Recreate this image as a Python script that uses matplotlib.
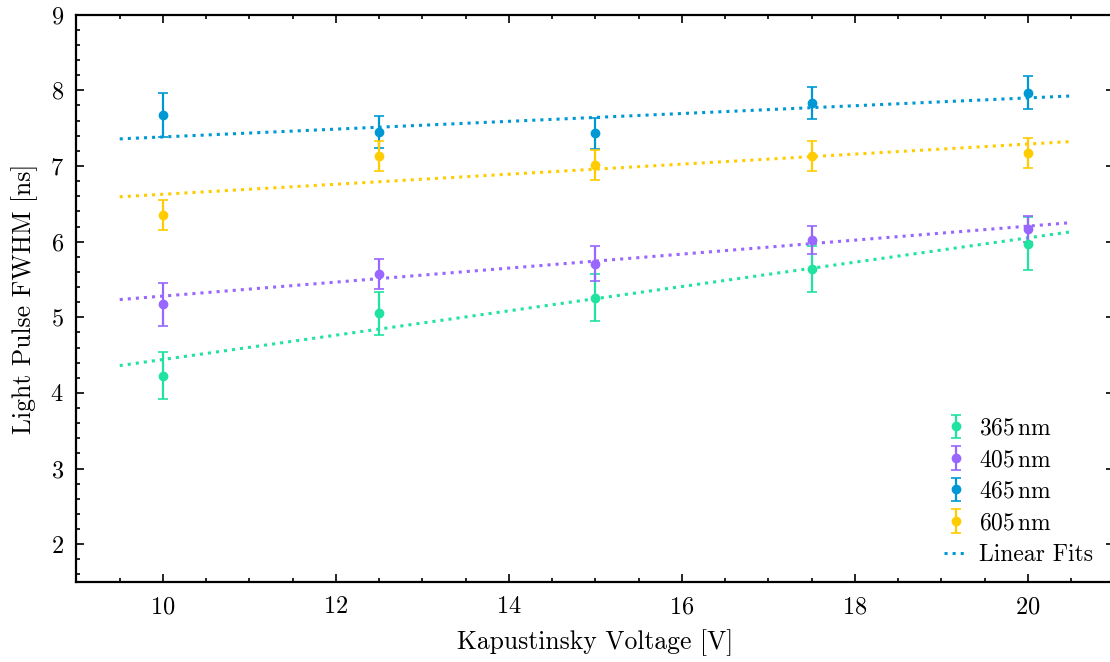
import numpy as np
import matplotlib.pyplot as plt
from matplotlib.ticker import MultipleLocator

plt.rcParams['font.family'] = 'cmr10'
plt.rcParams['mathtext.fontset'] = 'cm'
plt.rcParams['axes.formatter.use_mathtext'] = True

voltage = [10, 12.5, 15, 17.5, 20]

fwhm_365 = [4.23, 5.05, 5.26, 5.64, 5.97]
err_365 = [0.31, 0.28, 0.31, 0.30, 0.35]
fwhm_405 = [5.17, 5.57, 5.71, 6.02, 6.17]
err_405 = [0.28, 0.20, 0.23, 0.19, 0.17]
fwhm_465 = [7.67, 7.45, 7.43, 7.83, 7.97]
err_465 = [0.29, 0.21, 0.20, 0.21, 0.22]
fwhm_605 = [6.35, 7.13, 7.01, 7.13, 7.17]
err_605 = [0.20, 0.20, 0.20, 0.20, 0.20]

# fit parameters (slope, intercept)
fit_365 = (0.1608, 2.834)
fit_405 = (0.0925, 4.355)
fit_465 = (0.0516, 6.868)
fit_605 = (0.0664, 5.962)

labels = ['365', '405', '465', '605']
colors = ['#1fe39f', '#9966ff', '#0098d4', '#ffcc00']

fig = plt.figure(figsize=(11.1, 6.62), dpi=100)
ax = fig.add_axes([0.0689, 0.1208, 0.9351, 0.857])

xfit = np.linspace(9.5, 20.5, 50)
handles = []
data = [(fwhm_365, err_365, fit_365), (fwhm_405, err_405, fit_405),
        (fwhm_465, err_465, fit_465), (fwhm_605, err_605, fit_605)]
for (y, e, fit), lab, c in zip(data, labels, colors):
    h = ax.errorbar(voltage, y, yerr=e, fmt='o', color=c, ms=6,
                    elinewidth=1.6, capsize=3.3, capthick=1.2, zorder=3)
    handles.append(h)
    ax.plot(xfit, fit[0]*xfit + fit[1], ls=':', color=c, lw=2.2, zorder=2)

# legend line uses the blue colour
fit_handle = plt.Line2D([], [], ls=':', color=colors[2], lw=2.2)
handles.append(fit_handle)

ax.set_xlim(9, 21)
ax.set_ylim(1.5, 9)
ax.xaxis.set_major_locator(MultipleLocator(2))
ax.xaxis.set_minor_locator(MultipleLocator(0.5))
ax.yaxis.set_major_locator(MultipleLocator(1))
ax.yaxis.set_minor_locator(MultipleLocator(0.2))
ax.tick_params(which='both', direction='in', top=True, right=True,
               labelsize=17.5, width=1.2)
ax.tick_params(which='major', length=6)
ax.tick_params(axis='x', which='major', pad=10)
ax.tick_params(axis='y', which='major', pad=9)
ax.tick_params(which='minor', length=3)
for s in ax.spines.values():
    s.set_linewidth(1.6)

ax.set_xlabel('Kapustinsky Voltage [V]', fontsize=18.5, labelpad=8)
ax.set_ylabel('Light Pulse FWHM [ns]', fontsize=18.5, labelpad=9)

ax.legend(handles, [r'$365\,\mathrm{nm}$', r'$405\,\mathrm{nm}$',
                    r'$465\,\mathrm{nm}$', r'$605\,\mathrm{nm}$', 'Linear Fits'],
          loc='lower right', bbox_to_anchor=(0.9995, -0.009), frameon=False,
          fontsize=17, handlelength=1.0, handletextpad=0.45, labelspacing=0.40)

plt.savefig('out.png', dpi=100)
